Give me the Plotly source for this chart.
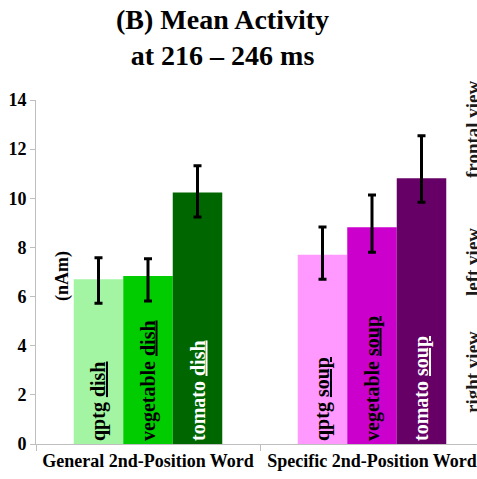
import plotly.graph_objects as go

# Mean source activity (nAm) in the 216–246 ms window
categories = ["General 2nd-Position Word", "Specific 2nd-Position Word"]
conditions = ["qptg", "vegetable", "tomato"]
nouns = ["dish", "soup"]

means = {
    "qptg":      [6.70, 7.70],
    "vegetable": [6.84, 8.82],
    "tomato":    [10.24, 10.82],
}
err_plus = {
    "qptg":      [0.88, 1.13],
    "vegetable": [0.70, 1.31],
    "tomato":    [1.08, 1.72],
}
err_minus = {
    "qptg":      [0.97, 1.00],
    "vegetable": [1.02, 1.02],
    "tomato":    [1.00, 0.98],
}

bar_colors = {
    "qptg":      ["#a3f5a3", "#ff99ff"],
    "vegetable": ["#00cc00", "#cc00cc"],
    "tomato":    ["#006600", "#660066"],
}
label_colors = {
    "qptg": "#000000",
    "vegetable": "#000000",
    "tomato": "#ffffff",
}

view_labels = ["frontal view", "left view", "right view"]
view_centers = [129, 262, 372]  # pixel rows of each label's centre

serif = "Liberation Serif, Times New Roman, serif"

fig = go.Figure()
for cond in conditions:
    fig.add_trace(go.Bar(
        x=categories,
        y=means[cond],
        name=cond,
        marker=dict(color=bar_colors[cond], line=dict(width=0)),
        error_y=dict(type="data", symmetric=False,
                     array=err_plus[cond], arrayminus=err_minus[cond],
                     color="#000000", thickness=3, width=4),
        text=[f"<b>{cond} <u>{n}</u></b>" for n in nouns],
        textposition="inside",
        insidetextanchor="start",
        textangle=-90,
        textfont=dict(family=serif, size=20, color=label_colors[cond]),
        showlegend=False,
    ))

W, H = 477, 479
ml, mr, mt, mb = 36, 0, 100, 35
plot_w = W - ml - mr
plot_h = H - mt - mb
cat_px = 224.0  # width of one category slot in pixels
x_hi = -0.5 + plot_w / cat_px


def px_x(px):
    return (px - ml) / plot_w


def px_y(py):
    return (H - mb - py) / plot_h


annotations = [
    dict(text="<b>(B) Mean Activity<br>at 216 – 246 ms</b>",
         xref="paper", yref="paper", x=px_x(222), y=px_y(38),
         xanchor="center", yanchor="middle", showarrow=False,
         font=dict(family=serif, size=28, color="#000000")),
    dict(text="<b>(nAm)</b>", xref="paper", yref="paper",
         x=px_x(62), y=px_y(276), xanchor="center", yanchor="middle",
         textangle=-90, showarrow=False,
         font=dict(family=serif, size=18, color="#000000")),
]
for lab, cy in zip(view_labels, view_centers):
    annotations.append(dict(
        text=f"<b>{lab}</b>", xref="paper", yref="paper",
        x=px_x(472), y=px_y(cy),
        textangle=-90, showarrow=False, xanchor="center", yanchor="middle",
        font=dict(family=serif, size=19, color="#1a1a1a")))

fig.update_layout(
    width=W, height=H,
    margin=dict(l=ml, r=mr, t=mt, b=mb, pad=0),
    paper_bgcolor="#ffffff", plot_bgcolor="#ffffff",
    barmode="group", bargap=0.337, bargroupgap=0,
    xaxis=dict(range=[-0.5, x_hi], showgrid=False, showline=True,
               linecolor="#bfbfbf", linewidth=1, ticks="outside",
               tickson="boundaries", ticklen=6, tickcolor="#bfbfbf",
               tickvals=categories,
               ticktext=[f"<b>{c}</b>" for c in categories],
               tickfont=dict(family=serif, size=18, color="#000000"),
               zeroline=False),
    yaxis=dict(range=[0, 14], dtick=2, showgrid=False, showline=True,
               linecolor="#bfbfbf", linewidth=1, ticks="outside",
               ticklen=5, tickcolor="#bfbfbf",
               tickfont=dict(family=serif, size=18, color="#000000"),
               tickprefix="<b>", ticksuffix="</b>", zeroline=False),
    annotations=annotations,
)

fig.write_html("out.html")
